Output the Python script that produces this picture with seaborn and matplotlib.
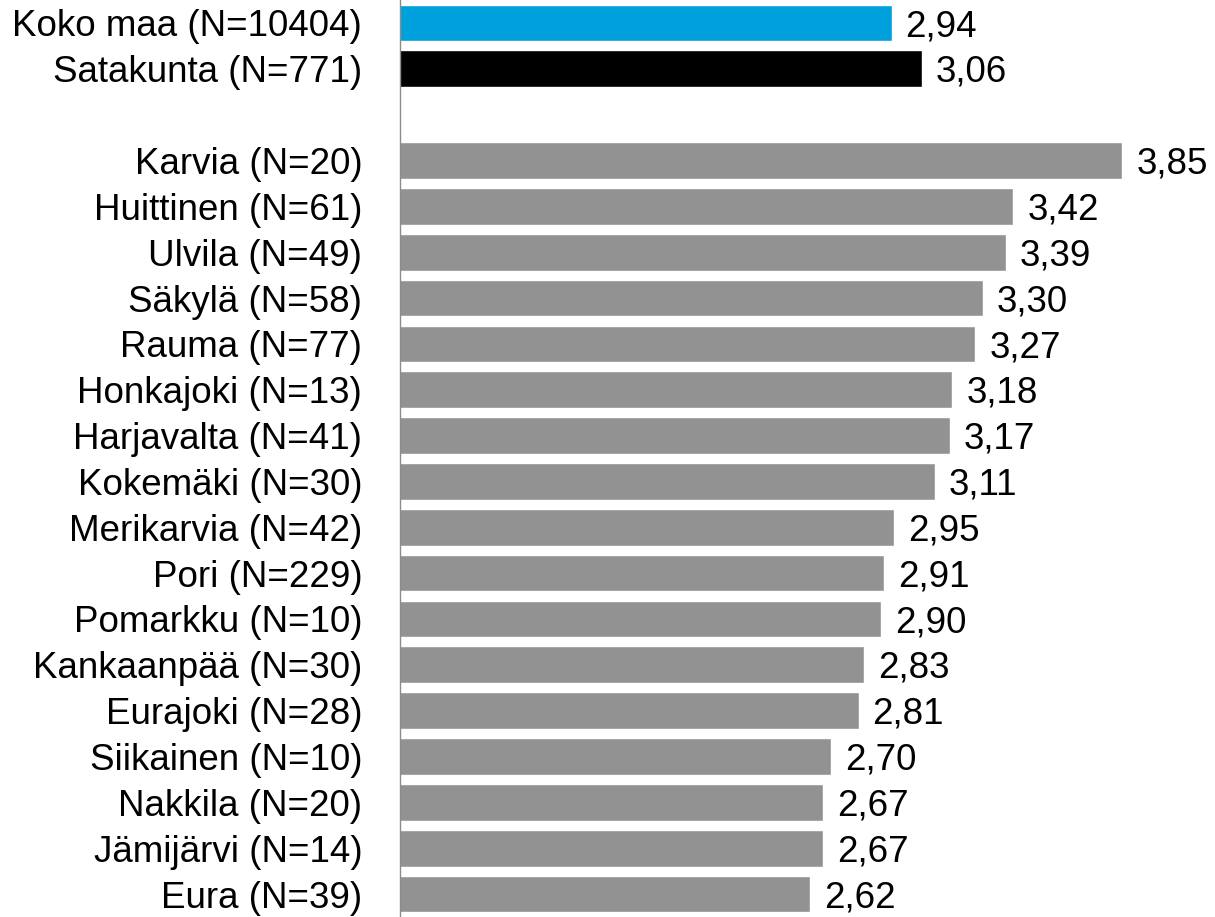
import pandas as pd
import matplotlib
matplotlib.use("Agg")
import matplotlib.pyplot as plt
import seaborn as sns

# arvot kuvasta
alueet = ["Koko maa (N=10404)", "Satakunta (N=771)",
          "Karvia (N=20)", "Huittinen (N=61)", "Ulvila (N=49)", "Säkylä (N=58)",
          "Rauma (N=77)", "Honkajoki (N=13)", "Harjavalta (N=41)", "Kokemäki (N=30)",
          "Merikarvia (N=42)", "Pori (N=229)", "Pomarkku (N=10)", "Kankaanpää (N=30)",
          "Eurajoki (N=28)", "Siikainen (N=10)", "Nakkila (N=20)", "Jämijärvi (N=14)",
          "Eura (N=39)"]
arvot = [2.94, 3.06, 3.85, 3.42, 3.39, 3.30, 3.27, 3.18, 3.17, 3.11,
         2.95, 2.91, 2.90, 2.83, 2.81, 2.70, 2.67, 2.67, 2.62]

jarjestys = alueet[:2] + [" "] + alueet[2:]  # tyhjä rivi väliin

varit = {a: "#929292" for a in alueet}
varit[alueet[0]] = "#00A0DC"
varit[alueet[1]] = "#000000"

df = pd.DataFrame({"alue": alueet, "arvo": arvot})

sns.set_style("white")
plt.rcParams["font.family"] = ["Liberation Sans", "DejaVu Sans"]
plt.rcParams["text.color"] = "black"
plt.rcParams["ytick.color"] = "black"

fig, ax = plt.subplots(figsize=(12.15, 9.17), dpi=100)
fig.subplots_adjust(left=0.329, right=0.955, top=1.0, bottom=0.0)

sns.barplot(data=df, x="arvo", y="alue", hue="alue", order=jarjestys,
            palette=varit, legend=False, width=0.8, saturation=1, ax=ax)

for a, v in zip(alueet, arvot):
    i = jarjestys.index(a)
    ax.text(v + 0.055, i + 0.08, f"{v:.2f}".replace(".", ","),
            va="center", ha="left", fontsize=26.5, color="black")

ax.set_xlim(1.0, 4.0)
ax.set_ylim(len(jarjestys) - 0.5, -0.5)
ax.set_xlabel("")
ax.set_ylabel("")
ax.set_xticks([])
ax.tick_params(axis="y", length=0, labelsize=26.5, pad=27, labelcolor="black")
sns.despine(ax=ax, top=True, right=True, bottom=True, left=False)
ax.spines["left"].set_color("#8c8c8c")
ax.spines["left"].set_linewidth(1)

fig.savefig("out.png", dpi=100)
